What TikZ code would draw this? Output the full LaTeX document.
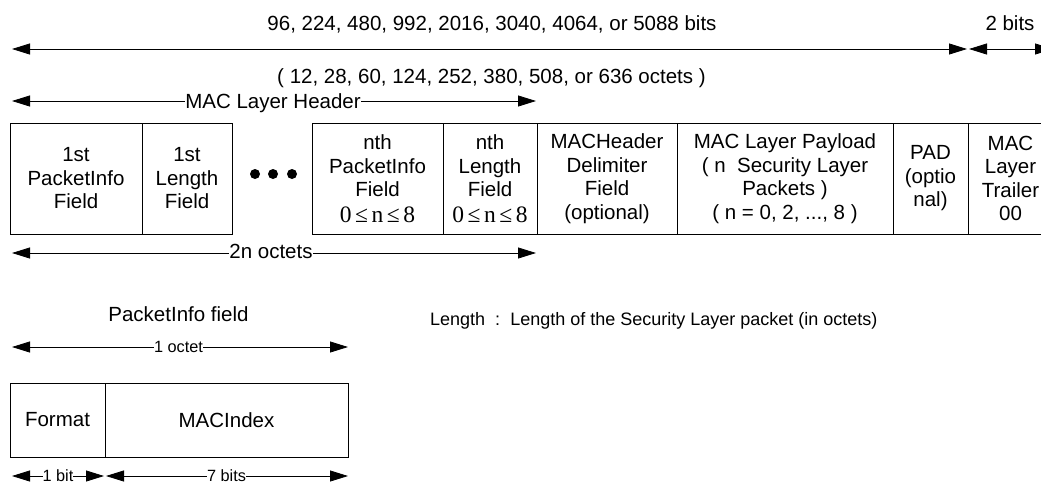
\documentclass[tikz,border=0pt]{standalone}
\usepackage{fontspec}
\setmainfont{Liberation Sans}
\newfontfamily\myseriffont{Liberation Serif}
\usetikzlibrary{arrows.meta}
\newcommand\mynle{{\myseriffont\fontsize{23.5}{23.5}\selectfont 0\hspace{3.5pt}≤\hspace{3.5pt}n\hspace{3.5pt}≤\hspace{3.5pt}8}}
\begin{document}
\begin{tikzpicture}[x=1pt,y=-1pt,
  every node/.style={font=\fontsize{20.5}{23.5}\selectfont, inner sep=0pt},
  fld/.style={draw, line width=1pt, minimum height=111pt, anchor=north west, align=center, outer sep=0pt},
  dim/.style={line width=0.8pt, {Triangle[length=18pt,width=11pt]}-{Triangle[length=18pt,width=11pt]}},
  lbl/.style={fill=white, inner sep=0pt, anchor=base},
  small/.style={font=\fontsize{16.3}{18}\selectfont},
  dot/.style={circle, fill, minimum size=10pt, inner sep=0pt}]
\useasboundingbox (0,0) rectangle (1041,483);

% top dimension
\coordinate (a1) at (12,49);
\coordinate (a2) at (967,49);
\coordinate (a3) at (969,49);
\coordinate (a4) at (1053,49);
\draw[dim] (a1) -- (a2);
\draw[dim] (a3) -- (a4);
\node[anchor=base] (bitsl) at (492,30) {96, 224, 480, 992, 2016, 3040, 4064, or 5088 bits};
\node[anchor=base] (twob) at (1010,30) {2 bits};
\node[anchor=base] (octl) at (491.5,83.5) {( 12, 28, 60, 124, 252, 380, 508, or 636 octets )};

% MAC Layer Header
\coordinate (h1) at (12,101);
\coordinate (h2) at (536,101);
\draw[dim] (h1) -- (h2);
\node[lbl] (hl) at (273,108.5) {MAC Layer Header};

% fields
\node[fld, minimum width=132pt] (f1) at (10,123) {1st\\PacketInfo\\Field};
\node[fld, minimum width=90pt] (f2) at (142,123) {1st\\Length\\Field};
\node[dot] (d1) at (255,174) {};
\node[dot] (d2) at (273,174) {};
\node[dot] (d3) at (292,174) {};
\node[fld, minimum width=131pt] (f3) at (312,123) {nth\\PacketInfo\\Field\\[2pt]\mynle};
\node[fld, minimum width=94pt] (f4) at (443,123) {nth\\Length\\Field\\[2pt]\mynle};
\node[fld, minimum width=140pt] (f5) at (537,123) {MACHeader\\Delimiter\\Field\\(optional)};
\node[fld, minimum width=216pt] (f6) at (677,123) {MAC Layer Payload\\( n\ \ Security Layer\\Packets )\\( n = 0, 2, ..., 8 )};
\node[fld, minimum width=75pt] (f7) at (893,123) {PAD\\(optio\\nal)};
\node[fld, draw=none, minimum width=85pt] (f8) at (968,123) {MAC\\Layer\\Trailer\\00};
\draw[line width=1pt] (f8.north east) -- (f8.north west) -- (f8.south west) -- (f8.south east);

% 2n octets
\coordinate (n1) at (12,253);
\coordinate (n2) at (536,253);
\draw[dim] (n1) -- (n2);
\node[lbl] (nl) at (271,258.5) {2n octets};

% PacketInfo field
\node[anchor=base] (pit) at (178.5,321) {PacketInfo field};
\coordinate (o1) at (12,347);
\coordinate (o2) at (348,347);
\draw[dim] (o1) -- (o2);
\node[lbl, small] (ol) at (178.5,352.5) {1 octet};

\node[fld, minimum width=95pt, minimum height=74pt] (fm) at (10,383) {Format};
\node[fld, minimum width=243pt, minimum height=74pt] (mi) at (105,383) {MACIndex};

\coordinate (b1) at (12,476);
\coordinate (b2) at (104,476);
\coordinate (b3) at (106,476);
\coordinate (b4) at (348,476);
\draw[dim] (b1) -- (b2);
\draw[dim] (b3) -- (b4);
\node[lbl, small] (bl1) at (58,481.5) {1 bit};
\node[lbl, small] (bl2) at (226.5,481.5) {7 bits};

% Length note
\node[anchor=base west, font=\fontsize{18}{20}\selectfont] (note) at (430,325) {Length\ \ :\ \ Length of the Security Layer packet (in octets)};
\end{tikzpicture}
\end{document}
